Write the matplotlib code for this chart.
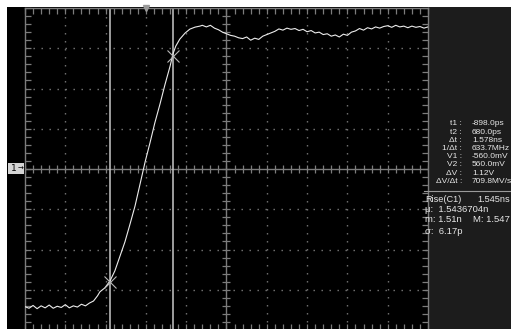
import matplotlib.pyplot as plt
import numpy as np
from matplotlib.patches import Rectangle

# scope settings (1 ns/div, 200 mV/div)
t_left, t_right = -3.0, 7.0
v_low, v_high = -800, 800

# trace: time (ns), voltage (mV)
trace_t = [-3.0, -2.9, -2.8, -2.7, -2.6, -2.5, -2.4, -2.3, -2.2, -2.1,
           -2.0, -1.9, -1.8, -1.7, -1.6, -1.5, -1.4, -1.3, -1.2, -1.14,
           -1.02, -0.89, -0.77, -0.65, -0.52, -0.40, -0.27, -0.15, -0.02, 0.10,
           0.22, 0.35, 0.47, 0.60, 0.67, 0.74, 0.84, 0.97, 1.09, 1.22,
           1.34, 1.4, 1.5, 1.6, 1.7, 1.8, 1.9, 2.0, 2.1, 2.2,
           2.3, 2.4, 2.5, 2.6, 2.7, 2.8, 2.9, 3.0, 3.1, 3.2,
           3.3, 3.4, 3.5, 3.6, 3.7, 3.8, 3.9, 4.0, 4.1, 4.2,
           4.3, 4.4, 4.5, 4.6, 4.7, 4.8, 4.9, 5.0, 5.1, 5.2,
           5.3, 5.4, 5.5, 5.6, 5.7, 5.8, 5.9, 6.0, 6.1, 6.2,
           6.3, 6.4, 6.5, 6.6, 6.7, 6.8, 6.9, 7.0]
trace_mv = [-684, -692, -678, -694, -680, -690, -676, -692, -682, -688,
            -674, -690, -680, -686, -672, -680, -666, -656, -630, -610,
            -591, -556, -506, -437, -362, -278, -184, -79, 35, 129,
            228, 323, 417, 511, 571, 610, 645, 675, 695, 705,
            710, 714, 706, 714, 700, 692, 680, 672, 664, 660,
            652, 648, 656, 640, 650, 644, 660, 668, 676, 684,
            696, 690, 700, 694, 698, 688, 694, 682, 688, 676,
            680, 668, 672, 660, 666, 656, 670, 664, 680, 686,
            698, 690, 702, 696, 706, 700, 708, 712, 704, 714,
            706, 710, 702, 710, 704, 708, 700, 706]

# cursors
cursor_t = [-0.898, 0.680]
cursor_v = [-560, 560]

readout_labels = ['t1 :', 't2 :', '\u0394t :', '1/\u0394t :', 'V1 :', 'V2 :',
                  '\u0394V :', '\u0394V/\u0394t :']
readout_values = ['-898.0ps', '680.0ps', '1.578ns', '633.7MHz', '-560.0mV',
                  '560.0mV', '1.12V', '709.8MV/s']

W, H = 511, 329
fig = plt.figure(figsize=(W / 100, H / 100), dpi=100)
fig.patch.set_facecolor('white')

# black screen and grey readout panel
fig.add_artist(Rectangle((7 / W, 0), 1, 1 - 7 / H, transform=fig.transFigure,
                         facecolor='black', edgecolor='none', zorder=0))
fig.add_artist(Rectangle((428 / W, 0), 1, 1 - 7 / H, transform=fig.transFigure,
                         facecolor='#1c1c1c', edgecolor='none', zorder=0))

ax = fig.add_axes([25 / W, -1 / H, 403 / W, 322 / H])
ax.set_facecolor('black')
ax.set_xlim(t_left, t_right)
ax.set_ylim(v_low, v_high)

grid_c = '#7c7c7c'
for s in ax.spines.values():
    s.set_color(grid_c)
    s.set_linewidth(1.0)

ax.set_xticks(np.arange(t_left, t_right + 0.01, 1.0))
ax.set_yticks(np.arange(v_low, v_high + 1, 200))
ax.set_xticks(np.arange(t_left, t_right + 0.01, 0.2), minor=True)
ax.set_yticks(np.arange(v_low, v_high + 1, 40), minor=True)
ax.tick_params(which='both', direction='in', length=4, width=0.9, color=grid_c,
               top=True, right=True, labelbottom=False, labelleft=False)

# dotted division lines
dots = (0, (1, 4.76))
for t in np.arange(t_left + 1, t_right, 1.0):
    if abs(t - 2.0) > 0.01:
        ax.axvline(t, color='#7a7a7a', lw=1, ls=dots, zorder=1)
for v in np.arange(v_low + 200, v_high, 200):
    if v != 0:
        ax.axhline(v, color='#7a7a7a', lw=1, ls=dots, zorder=1)

# centre crosshair with fine ticks
ax.axhline(0, color=grid_c, lw=1, zorder=1)
ax.axvline(2.0, color=grid_c, lw=1, zorder=1)
fine_t = np.arange(t_left, t_right + 0.01, 0.2)
fine_v = np.arange(v_low, v_high + 1, 40)
ax.plot(fine_t, np.zeros_like(fine_t), ls='none', marker='|', ms=6,
        mew=0.9, color=grid_c, zorder=1)
ax.plot(np.full_like(fine_v, 2.0, dtype=float), fine_v, ls='none', marker='_',
        ms=6, mew=0.9, color=grid_c, zorder=1)

# cursor bars
for ct in cursor_t:
    ax.axvline(ct, color='#c8c8c8', lw=1.1, zorder=2)

# waveform
ax.plot(trace_t, trace_mv, color='#ececec', lw=0.8, zorder=3)
ax.plot(cursor_t, cursor_v, ls='none', marker='x', ms=9, mew=0.8,
        color='#b8b8b8', zorder=4)

# trigger position marker
ax.plot([0], [v_high], marker='v', ms=5, color='#9a9a9a', clip_on=False, zorder=5)

# channel 1 ground marker
fig.add_artist(Rectangle((8 / W, 1 - 174 / H), 16 / W, 11 / H,
                         transform=fig.transFigure, facecolor='#d4d4d4',
                         edgecolor='none', zorder=6))
fig.text(14 / W, 1 - 168.5 / H, '1', fontsize=6.5, color='black',
         ha='center', va='center', zorder=7)
fig.text(21 / W, 1 - 168.5 / H, '\u2192', fontsize=5, color='black',
         ha='center', va='center', zorder=7)

# readouts
txt_c = '#e6e6e6'
font = 'Liberation Sans'
for i, (lab, val) in enumerate(zip(readout_labels, readout_values)):
    y = 1 - (124 + 8.2 * i) / H
    fig.text(462 / W, y, lab, fontsize=6.0, color=txt_c, ha='right',
             va='center', family=font)
    fig.text(472 / W, y, val, fontsize=6.0, color=txt_c, ha='left',
             va='center', family=font)

fig.add_artist(plt.Line2D([424 / W, 1], [1 - 191 / H, 1 - 191 / H],
                          transform=fig.transFigure, color='#9a9a9a', lw=0.8))
fig.text(425 / W, 1 - 200 / H, 'Rise(C1)', fontsize=6.6, color=txt_c,
         va='center', family=font)
fig.text(510 / W, 1 - 200 / H, '1.545ns', fontsize=6.6, color=txt_c,
         ha='right', va='center', family=font)
fig.text(425 / W, 1 - 210 / H, '\u03bc:  1.5436704n', fontsize=6.8, color=txt_c,
         va='center', family=font)
fig.text(425 / W, 1 - 220 / H, 'm: 1.51n', fontsize=6.8, color=txt_c,
         va='center', family=font)
fig.text(510 / W, 1 - 220 / H, 'M: 1.547', fontsize=6.8, color=txt_c,
         ha='right', va='center', family=font)
fig.text(425 / W, 1 - 231 / H, '\u03c3:  6.17p', fontsize=6.8, color=txt_c,
         va='center', family=font)

fig.savefig('out.png', dpi=100, facecolor=fig.get_facecolor())
